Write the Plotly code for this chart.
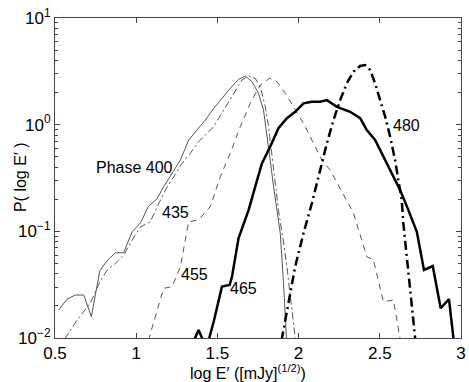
import numpy as np
import plotly.graph_objects as go

# phase 400 (thin solid)
x400 = [0.523, 0.575, 0.626, 0.677, 0.724, 0.776, 0.825, 0.872, 0.923, 0.975, 1.026, 1.077,
        1.127, 1.169, 1.221, 1.272, 1.323, 1.375, 1.426, 1.477, 1.528, 1.579, 1.630, 1.672,
        1.713, 1.753, 1.784, 1.805, 1.825, 1.846, 1.867, 1.887, 1.907, 1.926]
p400 = [0.0183, 0.0232, 0.0253, 0.0253, 0.0158, 0.0428, 0.0539, 0.063, 0.063, 0.099, 0.120, 0.173,
        0.201, 0.262, 0.350, 0.466, 0.718, 0.891, 1.106, 1.42, 1.77, 2.19, 2.66, 2.86,
        2.53, 1.97, 1.37, 0.83, 0.466, 0.262, 0.158, 0.096, 0.033, 0.0095]

# phase 435 (thin dash-dot)
x435 = [0.560, 0.637, 0.718, 0.776, 0.821, 0.872, 0.923, 0.975, 1.026, 1.087, 1.129, 1.180,
        1.231, 1.282, 1.333, 1.384, 1.477, 1.538, 1.600, 1.651, 1.692, 1.733, 1.764, 1.795,
        1.815, 1.836, 1.856, 1.876, 1.905, 1.928, 1.955, 1.981]
p435 = [0.0098, 0.0148, 0.0213, 0.0335, 0.0434, 0.0501, 0.060, 0.083, 0.110, 0.123, 0.170, 0.244,
        0.325, 0.434, 0.539, 0.692, 0.957, 1.37, 1.97, 2.62, 2.86, 2.72, 2.27, 1.47,
        0.957, 0.50, 0.282, 0.158, 0.083, 0.0467, 0.0204, 0.0095]

# phase 455 (thin dashed)
x455 = [1.075, 1.169, 1.221, 1.272, 1.323, 1.384, 1.456, 1.518, 1.579, 1.641, 1.702, 1.764,
        1.821, 1.867, 1.918, 1.969, 2.030, 2.092, 2.143, 2.194, 2.297, 2.338, 2.420, 2.461,
        2.522, 2.584, 2.627]
p455 = [0.0095, 0.0292, 0.0303, 0.0467, 0.123, 0.128, 0.170, 0.325, 0.539, 0.957, 1.585, 2.35,
        2.72, 2.53, 1.97, 1.47, 1.03, 0.668, 0.466, 0.376, 0.197, 0.148, 0.0578, 0.0539,
        0.0219, 0.0227, 0.0095]

# phase 465 (thick solid)
x465 = [1.356, 1.384, 1.412, 1.446, 1.477, 1.528, 1.575, 1.590, 1.630, 1.672, 1.692, 1.733,
        1.774, 1.825, 1.876, 1.928, 1.979, 2.030, 2.082, 2.133, 2.174, 2.236, 2.317, 2.379,
        2.420, 2.471, 2.522, 2.574, 2.625, 2.676, 2.728, 2.772, 2.826, 2.875, 2.926, 2.955]
p465 = [0.0095, 0.0119, 0.0095, 0.0095, 0.0142, 0.0303, 0.0314, 0.0376, 0.086, 0.128, 0.158, 0.262,
        0.434, 0.622, 0.925, 1.15, 1.32, 1.585, 1.64, 1.64, 1.70, 1.47, 1.32, 1.15,
        0.891, 0.718, 0.50, 0.350, 0.244, 0.158, 0.099, 0.0434, 0.0473, 0.019, 0.0231, 0.0095]

# phase 480 (thick dash-dot)
x480 = [1.895, 1.928, 1.979, 2.030, 2.082, 2.133, 2.174, 2.215, 2.256, 2.297, 2.338, 2.379,
        2.410, 2.441, 2.471, 2.502, 2.533, 2.564, 2.594, 2.614, 2.635, 2.645, 2.676, 2.697, 2.719]
p480 = [0.0095, 0.0183, 0.0467, 0.0957, 0.184, 0.376, 0.668, 1.106, 1.70, 2.44, 3.14, 3.55,
        3.62, 3.25, 2.44, 1.70, 1.19, 0.771, 0.466, 0.303, 0.197, 0.119, 0.0404, 0.0197, 0.0095]

# curve labels
label_text = ["Phase 400", "435", "455", "465", "480"]
label_x = [0.989, 1.241, 1.361, 1.661, 2.662]
label_y = [0.401, 0.1486, 0.039, 0.0294, 0.972]

x_ticks = [0.5, 1, 1.5, 2, 2.5, 3]
y_ticks = [0.01, 0.1, 1, 10]
y_ticktext = ["10<sup>\u22122</sup>", "10<sup>\u22121</sup>", "10<sup>0</sup>", "10<sup>1</sup>"]

grey = "#555555"
fig = go.Figure()
fig.add_trace(go.Scatter(x=x400, y=p400, mode="lines", line=dict(color=grey, width=1)))
fig.add_trace(go.Scatter(x=x435, y=p435, mode="lines", line=dict(color=grey, width=1, dash="7px,3px,2px,3px")))
fig.add_trace(go.Scatter(x=x455, y=p455, mode="lines", line=dict(color=grey, width=1, dash="6px,5px")))
fig.add_trace(go.Scatter(x=x465, y=p465, mode="lines", line=dict(color="black", width=2.5)))
fig.add_trace(go.Scatter(x=x480, y=p480, mode="lines", line=dict(color="black", width=2.5, dash="9px,4px,2px,4px")))

for t, lx, ly in zip(label_text, label_x, label_y):
    fig.add_annotation(x=lx, y=np.log10(ly), text=t, showarrow=False,
                       font=dict(size=16, color="black"))

# axis titles placed by hand, like the original figure
fig.add_annotation(xref="paper", yref="paper", x=0.476, y=-0.105, yanchor="middle", showarrow=False,
                   text="log E\u2032 ([mJy]<sup>(1/2)</sup>)", font=dict(size=16, color="black"))
fig.add_annotation(xref="paper", yref="paper", x=-0.112, y=0.503, textangle=-90, showarrow=False,
                   text="P( log E\u2032 )", font=dict(size=16, color="black"))

minor_y = [m * 10.0 ** e for e in range(-2, 1) for m in range(2, 10)]

fig.update_xaxes(range=[0.5, 3], tickvals=x_ticks, ticktext=["0.5", "1", "1.5", "2", "2.5", "3"],
                 ticks="inside", ticklen=5, tickcolor="#444", showline=True, linecolor="#444",
                 linewidth=1, mirror="ticks", showgrid=False, zeroline=False, automargin=False,
                 tickfont=dict(size=17, color="black"))
fig.update_yaxes(type="log", range=[-2, 1], tickvals=y_ticks, ticktext=y_ticktext,
                 ticks="inside", ticklen=5, tickcolor="#444", showline=True, linecolor="#444",
                 linewidth=1, mirror="ticks", showgrid=False, zeroline=False, automargin=False,
                 tickfont=dict(size=17, color="black"),
                 minor=dict(tickmode="array", tickvals=minor_y, ticks="inside", ticklen=3,
                            tickcolor="#444", showgrid=False))

fig.update_layout(width=469, height=382, showlegend=False,
                  margin=dict(l=55, r=8, t=18, b=44, autoexpand=False),
                  plot_bgcolor="white", paper_bgcolor="white",
                  font=dict(family="Liberation Sans, Arial, sans-serif", color="black"))

# drop the page's default body margin so the figure sits at the window corner
fig.write_html("out.html", config={"displayModeBar": False},
               post_script="document.body.style.margin = '0';")
